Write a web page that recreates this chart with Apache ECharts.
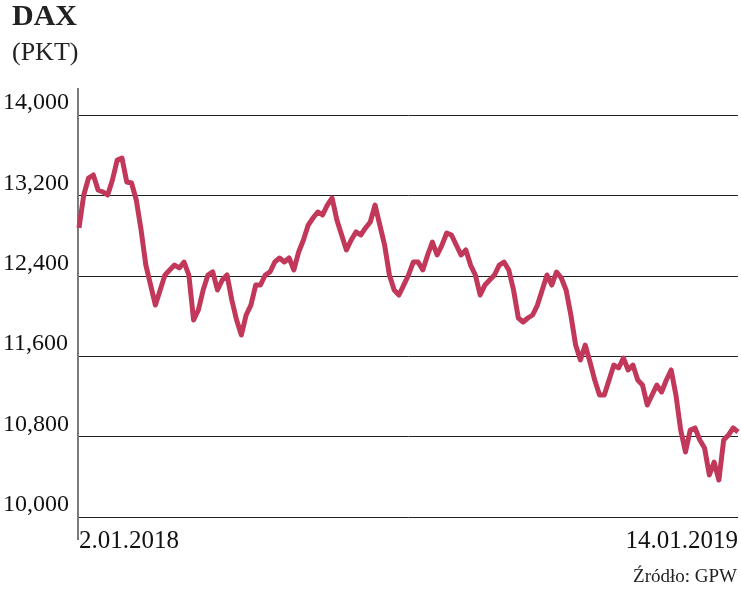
<!DOCTYPE html>
<html><head><meta charset="utf-8">
<script src="https://cdn.jsdelivr.net/npm/echarts@6/dist/echarts.min.js"></script>
<style>html,body{margin:0;padding:0;background:#fff}#c{width:741px;height:593px}</style>
</head><body><div id="c"></div>
<script>
const values = [12876,13204,13373,13403,13254,13234,13204,13353,13552,13572,13333,13323,13154,12856,12507,12308,12109,12259,12408,12458,12507,12478,12537,12408,11960,12060,12259,12408,12438,12259,12358,12408,12159,11960,11811,12010,12109,12308,12308,12408,12438,12537,12577,12537,12577,12458,12637,12756,12905,12975,13035,13005,13104,13174,12955,12806,12657,12756,12836,12806,12876,12935,13104,12905,12706,12408,12259,12209,12308,12408,12537,12537,12458,12607,12736,12607,12706,12826,12806,12706,12607,12657,12507,12408,12209,12308,12358,12408,12507,12537,12458,12259,11980,11940,11980,12010,12109,12259,12408,12308,12438,12378,12259,12010,11711,11562,11711,11542,11363,11214,11214,11363,11512,11483,11582,11463,11512,11363,11313,11114,11214,11313,11244,11363,11463,11214,10866,10647,10866,10886,10766,10687,10418,10547,10368,10766,10816,10886,10846];
const firstLabel = '2.01.2018', lastLabel = '14.01.2019';
const categories = values.map((v,i)=> i===0 ? firstLabel : (i===values.length-1 ? lastLabel : String(i)));
const yTicks = {min:10000, max:14000, interval:800};
const serif = '"Liberation Serif","DejaVu Serif",serif';
const chart = echarts.init(document.getElementById('c'));
chart.setOption({
  animation:false,
  grid:{left:78,right:1,top:115,bottom:76},
  graphic:[
    {type:'text',left:12,top:2,style:{text:'DAX',font:'bold 30px '+serif,fill:'#222'}},
    {type:'text',left:12,top:40,style:{text:'(PKT)',font:'26px '+serif,fill:'#222'}},
    {type:'text',right:4,top:568,style:{text:'Źródło: GPW',font:'19px '+serif,fill:'#222'}},
    {type:'line',shape:{x1:78,y1:88,x2:78,y2:540},style:{stroke:'#222',lineWidth:1.2}}
  ],
  xAxis:{type:'category',data:categories,boundaryGap:false,
    axisLine:{show:false},axisTick:{show:false},
    axisLabel:{interval:(i)=>i===0||i===values.length-1,formatter:v=>v,
      alignMinLabel:'left',alignMaxLabel:'right',margin:12,
      font:'24px '+serif,fontFamily:'Liberation Serif',fontSize:25,color:'#111'}},
  yAxis:{type:'value',min:yTicks.min,max:yTicks.max,interval:yTicks.interval,
    axisLine:{show:false},axisTick:{show:false},
    splitLine:{lineStyle:{color:'#222',width:1}},
    axisLabel:{inside:false,margin:76,align:'left',verticalAlign:'bottom',
      fontFamily:'Liberation Serif',fontSize:24,color:'#111'}},
  series:[{type:'line',data:values,symbol:'none',
    lineStyle:{color:'#c2385a',width:5,join:'round'}}]
});
</script></body></html>
